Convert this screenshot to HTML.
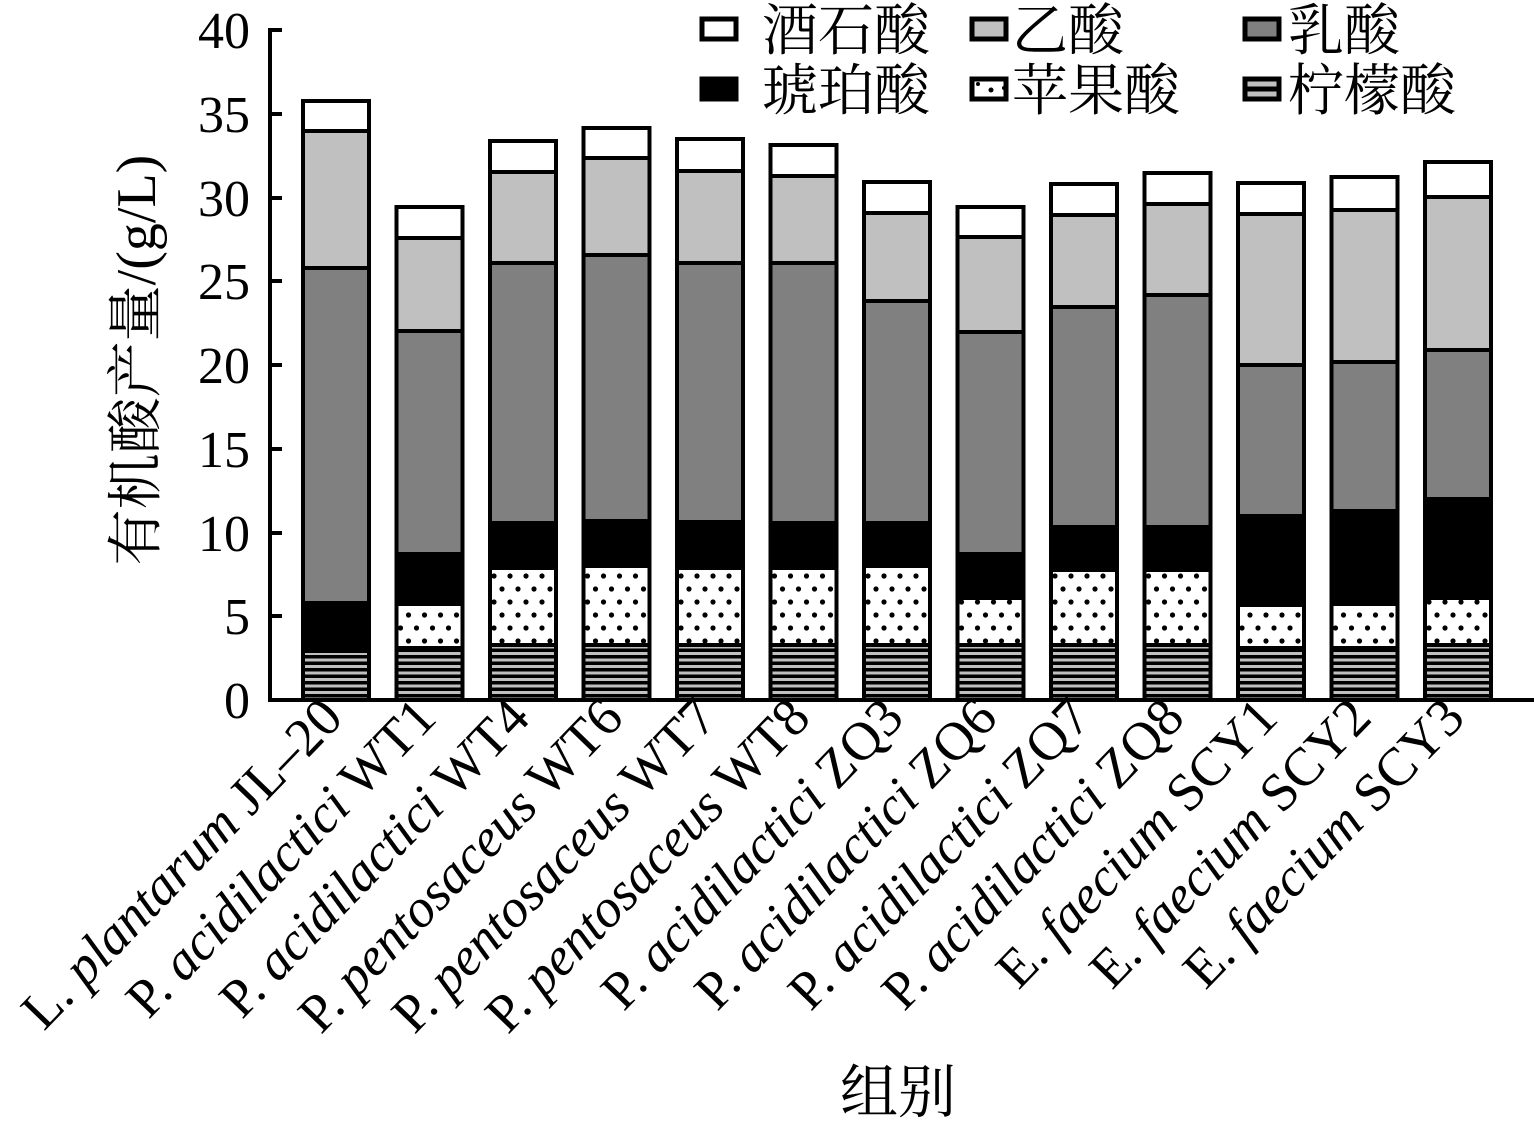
<!DOCTYPE html>
<html><head><meta charset="utf-8"><style>
html,body{margin:0;padding:0;background:#fff}
svg text{font-family:"Liberation Serif","Noto Serif CJK SC",serif;fill:#000}
</style></head><body>
<svg width="1534" height="1123" viewBox="0 0 1534 1123" xmlns="http://www.w3.org/2000/svg">
<defs>
<pattern id="cit" patternUnits="userSpaceOnUse" width="8" height="6.5">
<rect width="8" height="6.5" fill="#000"/><rect y="2" width="8" height="3" fill="#c0c0c0"/>
</pattern>
<pattern id="dot" patternUnits="userSpaceOnUse" width="32" height="26">
<rect width="32" height="26" fill="#fff"/>
<circle cx="4" cy="4" r="2.6" fill="#000"/><circle cx="20" cy="4" r="2.6" fill="#000"/>
<circle cx="12" cy="17" r="2.6" fill="#000"/><circle cx="28" cy="17" r="2.6" fill="#000"/>
</pattern>
</defs>
<g stroke="#000" stroke-width="4">
<g transform="translate(303,0)"><rect x="0" width="66" y="651" height="49" fill="url(#cit)"/><rect x="0" width="66" y="648" height="3" fill="#fff"/><rect x="0" width="66" y="603" height="45" fill="#000"/><rect x="0" width="66" y="268" height="335" fill="#808080"/><rect x="0" width="66" y="131" height="137" fill="#c0c0c0"/><rect x="0" width="66" y="101" height="30" fill="#fff"/></g>
<g transform="translate(396.5,0)"><rect x="0" width="66" y="648" height="52" fill="url(#cit)"/><rect x="0" width="66" y="604" height="44" fill="url(#dot)"/><rect x="0" width="66" y="554" height="50" fill="#000"/><rect x="0" width="66" y="331" height="223" fill="#808080"/><rect x="0" width="66" y="238" height="93" fill="#c0c0c0"/><rect x="0" width="66" y="207" height="31" fill="#fff"/></g>
<g transform="translate(490,0)"><rect x="0" width="66" y="645" height="55" fill="url(#cit)"/><rect x="0" width="66" y="568" height="77" fill="url(#dot)"/><rect x="0" width="66" y="523" height="45" fill="#000"/><rect x="0" width="66" y="263" height="260" fill="#808080"/><rect x="0" width="66" y="172" height="91" fill="#c0c0c0"/><rect x="0" width="66" y="141" height="31" fill="#fff"/></g>
<g transform="translate(583.5,0)"><rect x="0" width="66" y="645" height="55" fill="url(#cit)"/><rect x="0" width="66" y="566" height="79" fill="url(#dot)"/><rect x="0" width="66" y="521" height="45" fill="#000"/><rect x="0" width="66" y="255" height="266" fill="#808080"/><rect x="0" width="66" y="158" height="97" fill="#c0c0c0"/><rect x="0" width="66" y="128" height="30" fill="#fff"/></g>
<g transform="translate(677,0)"><rect x="0" width="66" y="645" height="55" fill="url(#cit)"/><rect x="0" width="66" y="568" height="77" fill="url(#dot)"/><rect x="0" width="66" y="522" height="46" fill="#000"/><rect x="0" width="66" y="263" height="259" fill="#808080"/><rect x="0" width="66" y="171" height="92" fill="#c0c0c0"/><rect x="0" width="66" y="139" height="32" fill="#fff"/></g>
<g transform="translate(770.5,0)"><rect x="0" width="66" y="645" height="55" fill="url(#cit)"/><rect x="0" width="66" y="568" height="77" fill="url(#dot)"/><rect x="0" width="66" y="523" height="45" fill="#000"/><rect x="0" width="66" y="263" height="260" fill="#808080"/><rect x="0" width="66" y="176" height="87" fill="#c0c0c0"/><rect x="0" width="66" y="145" height="31" fill="#fff"/></g>
<g transform="translate(864,0)"><rect x="0" width="66" y="645" height="55" fill="url(#cit)"/><rect x="0" width="66" y="566" height="79" fill="url(#dot)"/><rect x="0" width="66" y="523" height="43" fill="#000"/><rect x="0" width="66" y="301" height="222" fill="#808080"/><rect x="0" width="66" y="213" height="88" fill="#c0c0c0"/><rect x="0" width="66" y="182" height="31" fill="#fff"/></g>
<g transform="translate(957.5,0)"><rect x="0" width="66" y="645" height="55" fill="url(#cit)"/><rect x="0" width="66" y="598" height="47" fill="url(#dot)"/><rect x="0" width="66" y="554" height="44" fill="#000"/><rect x="0" width="66" y="332" height="222" fill="#808080"/><rect x="0" width="66" y="237" height="95" fill="#c0c0c0"/><rect x="0" width="66" y="207" height="30" fill="#fff"/></g>
<g transform="translate(1051,0)"><rect x="0" width="66" y="645" height="55" fill="url(#cit)"/><rect x="0" width="66" y="570" height="75" fill="url(#dot)"/><rect x="0" width="66" y="527" height="43" fill="#000"/><rect x="0" width="66" y="307" height="220" fill="#808080"/><rect x="0" width="66" y="215" height="92" fill="#c0c0c0"/><rect x="0" width="66" y="184" height="31" fill="#fff"/></g>
<g transform="translate(1144.5,0)"><rect x="0" width="66" y="645" height="55" fill="url(#cit)"/><rect x="0" width="66" y="570" height="75" fill="url(#dot)"/><rect x="0" width="66" y="527" height="43" fill="#000"/><rect x="0" width="66" y="295" height="232" fill="#808080"/><rect x="0" width="66" y="204" height="91" fill="#c0c0c0"/><rect x="0" width="66" y="173" height="31" fill="#fff"/></g>
<g transform="translate(1238,0)"><rect x="0" width="66" y="648" height="52" fill="url(#cit)"/><rect x="0" width="66" y="605" height="43" fill="url(#dot)"/><rect x="0" width="66" y="516" height="89" fill="#000"/><rect x="0" width="66" y="365" height="151" fill="#808080"/><rect x="0" width="66" y="214" height="151" fill="#c0c0c0"/><rect x="0" width="66" y="183" height="31" fill="#fff"/></g>
<g transform="translate(1331.5,0)"><rect x="0" width="66" y="648" height="52" fill="url(#cit)"/><rect x="0" width="66" y="604" height="44" fill="url(#dot)"/><rect x="0" width="66" y="511" height="93" fill="#000"/><rect x="0" width="66" y="362" height="149" fill="#808080"/><rect x="0" width="66" y="210" height="152" fill="#c0c0c0"/><rect x="0" width="66" y="177" height="33" fill="#fff"/></g>
<g transform="translate(1425,0)"><rect x="0" width="66" y="645" height="55" fill="url(#cit)"/><rect x="0" width="66" y="598" height="47" fill="url(#dot)"/><rect x="0" width="66" y="499" height="99" fill="#000"/><rect x="0" width="66" y="350" height="149" fill="#808080"/><rect x="0" width="66" y="197" height="153" fill="#c0c0c0"/><rect x="0" width="66" y="162" height="35" fill="#fff"/></g>
</g>
<line x1="270" y1="28" x2="270" y2="702" stroke="#000" stroke-width="4"/>
<line x1="268" y1="700" x2="1534" y2="700" stroke="#000" stroke-width="4"/>
<g stroke="#000" stroke-width="4">
<line x1="270" y1="616" x2="282" y2="616"/><line x1="270" y1="533" x2="282" y2="533"/>
<line x1="270" y1="449" x2="282" y2="449"/><line x1="270" y1="365" x2="282" y2="365"/>
<line x1="270" y1="281" x2="282" y2="281"/><line x1="270" y1="198" x2="282" y2="198"/>
<line x1="270" y1="114" x2="282" y2="114"/><line x1="270" y1="30" x2="282" y2="30"/>
</g>
<g font-size="52" text-anchor="end">
<text x="250" y="718">0</text><text x="250" y="634">5</text><text x="250" y="551">10</text>
<text x="250" y="467">15</text><text x="250" y="383">20</text><text x="250" y="299">25</text>
<text x="250" y="216">30</text><text x="250" y="132">35</text><text x="250" y="48">40</text>
</g>
<text transform="translate(155,360) rotate(-90)" font-size="56" text-anchor="middle">有机酸产量/(g/L)</text>
<text x="898" y="1112" font-size="58" text-anchor="middle">组别</text>
<g stroke="#000" stroke-width="5">
<rect x="702" y="19" width="34" height="20" fill="#fff"/>
<rect x="972" y="19" width="34" height="20" fill="#c0c0c0"/>
<rect x="1245" y="19" width="34" height="20" fill="#808080"/>
<rect x="702" y="79" width="34" height="20" fill="#000"/>
<rect x="972" y="79" width="34" height="20" fill="#fff"/>
<rect x="1245" y="79" width="34" height="20" fill="#c0c0c0"/>
<line x1="1245" y1="89" x2="1279" y2="89"/>
</g>
<circle cx="991" cy="90" r="2.5"/><circle cx="978" cy="84" r="2"/><circle cx="1004" cy="88" r="2"/>
<g font-size="56">
<text x="762" y="50">酒石酸</text><text x="1012" y="50">乙酸</text><text x="1288" y="50">乳酸</text>
<text x="762" y="110">琥珀酸</text><text x="1012" y="110">苹果酸</text><text x="1288" y="110">柠檬酸</text>
</g>
<g font-size="54" text-anchor="end">
<text transform="translate(345,720) rotate(-46)">L. <tspan font-style="italic">plantarum</tspan> JL–20</text>
<text transform="translate(438.5,720) rotate(-46)">P. <tspan font-style="italic">acidilactici</tspan> WT1</text>
<text transform="translate(532,720) rotate(-46)">P. <tspan font-style="italic">acidilactici</tspan> WT4</text>
<text transform="translate(625.5,720) rotate(-46)">P. <tspan font-style="italic">pentosaceus</tspan> WT6</text>
<text transform="translate(719,720) rotate(-46)">P. <tspan font-style="italic">pentosaceus</tspan> WT7</text>
<text transform="translate(812.5,720) rotate(-46)">P. <tspan font-style="italic">pentosaceus</tspan> WT8</text>
<text transform="translate(906,720) rotate(-46)">P. <tspan font-style="italic">acidilactici</tspan> ZQ3</text>
<text transform="translate(999.5,720) rotate(-46)">P. <tspan font-style="italic">acidilactici</tspan> ZQ6</text>
<text transform="translate(1093,720) rotate(-46)">P. <tspan font-style="italic">acidilactici</tspan> ZQ7</text>
<text transform="translate(1186.5,720) rotate(-46)">P. <tspan font-style="italic">acidilactici</tspan> ZQ8</text>
<text transform="translate(1280,720) rotate(-46)">E. <tspan font-style="italic">faecium</tspan> SCY1</text>
<text transform="translate(1373.5,720) rotate(-46)">E. <tspan font-style="italic">faecium</tspan> SCY2</text>
<text transform="translate(1467,720) rotate(-46)">E. <tspan font-style="italic">faecium</tspan> SCY3</text>
</g>
</svg>
</body></html>
